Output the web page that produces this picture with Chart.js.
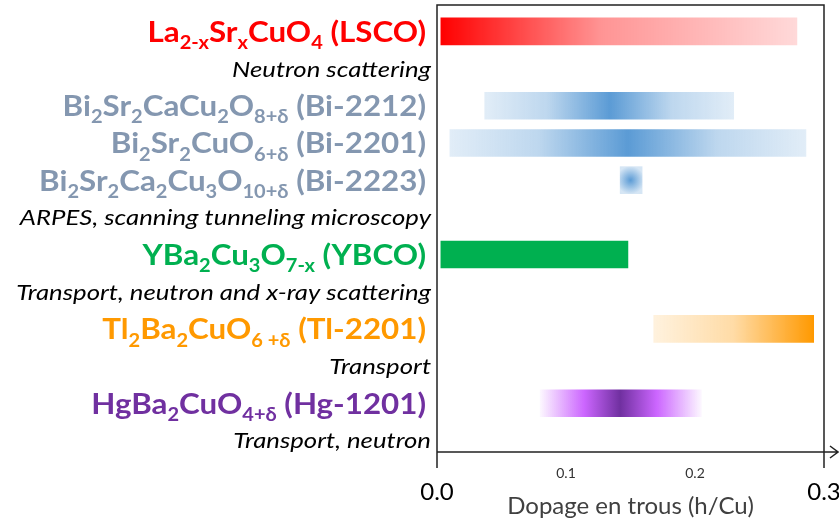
<!DOCTYPE html>
<html>
<head>
<meta charset="utf-8">
<script src="https://cdn.jsdelivr.net/npm/chart.js@4.4.1/dist/chart.umd.min.js"></script>
<style>
  body { margin: 0; background: #fff; }
  #wrap { width: 839px; height: 523px; }
</style>
</head>
<body>
<div id="wrap"><canvas id="dopingChart"></canvas></div>
<script>
// rows of the figure: compound label rows and method label rows
const compoundLabels = [
  'La_{2-x}Sr_{x}CuO_{4} (LSCO)',
  'Bi_{2}Sr_{2}CaCu_{2}O_{8+δ} (Bi-2212)',
  'Bi_{2}Sr_{2}CuO_{6+δ} (Bi-2201)',
  'Bi_{2}Sr_{2}Ca_{2}Cu_{3}O_{10+δ} (Bi-2223)',
  'YBa_{2}Cu_{3}O_{7-x} (YBCO)',
  'Tl_{2}Ba_{2}CuO_{6 +δ} (Tl-2201)',
  'HgBa_{2}CuO_{4+δ} (Hg-1201)'
];
const compoundRows = [0, 2, 3, 4, 6, 8, 10];
const methodLabels = [
  'Neutron scattering',
  'ARPES, scanning tunneling microscopy',
  'Transport, neutron and x-ray scattering',
  'Transport',
  'Transport, neutron'
];
const methodRows = [1, 5, 7, 9, 11];

// doping ranges (h/Cu)
const dopingMin = [0.003, 0.037, 0.010, 0.142, 0.003, 0.168, 0.080];
const dopingMax = [0.279, 0.230, 0.286, 0.159, 0.148, 0.292, 0.205];
const dopingPeak = [null, 0.134, 0.148, 0.150, null, null, 0.142];

const xTicks = [0.0, 0.1, 0.2, 0.3];

// styles
const labelColors = ['#FF0000', '#8497B0', '#8497B0', '#8497B0', '#00B050', '#FF9900', '#7030A0'];
const fillKinds = ['fadeRight', 'peak', 'peak', 'spot', 'solid', 'fadeLeft', 'purple'];
const FONT = "Lato, 'Open Sans', sans-serif";

function makeFill(c) {
  const i = c.dataIndex;
  const chart = c.chart;
  if (!chart.chartArea || i === undefined) return labelColors[i] || '#999';
  const ctx = chart.ctx;
  const xs = chart.scales.x, ys = chart.scales.y;
  const x0 = xs.getPixelForValue(dopingMin[i]);
  const x1 = xs.getPixelForValue(dopingMax[i]);
  const kind = fillKinds[i];
  if (kind === 'solid') return '#00B050';
  if (kind === 'fadeRight') {
    const g = ctx.createLinearGradient(x0, 0, x1, 0);
    g.addColorStop(0, 'rgba(255,0,0,1)');
    g.addColorStop(0.45, 'rgba(255,0,0,0.42)');
    g.addColorStop(1, 'rgba(255,0,0,0.15)');
    return g;
  }
  if (kind === 'fadeLeft') {
    const g = ctx.createLinearGradient(x0, 0, x1, 0);
    g.addColorStop(0, 'rgba(255,153,0,0.13)');
    g.addColorStop(0.5, 'rgba(255,153,0,0.35)');
    g.addColorStop(1, 'rgba(255,153,0,1)');
    return g;
  }
  const p = (xs.getPixelForValue(dopingPeak[i]) - x0) / (x1 - x0);
  if (kind === 'spot') {
    const cx = xs.getPixelForValue(dopingPeak[i]);
    const cy = ys.getPixelForValue(compoundRows[i]);
    const g = ctx.createRadialGradient(cx, cy, 0, cx, cy, 14);
    g.addColorStop(0, 'rgba(91,155,213,1)');
    g.addColorStop(1, 'rgba(91,155,213,0.25)');
    return g;
  }
  if (kind === 'peak') {
    const g = ctx.createLinearGradient(x0, 0, x1, 0);
    g.addColorStop(0, 'rgba(91,155,213,0.18)');
    g.addColorStop(p * 0.5, 'rgba(91,155,213,0.4)');
    g.addColorStop(p, 'rgba(91,155,213,1)');
    g.addColorStop(p + (1 - p) * 0.5, 'rgba(91,155,213,0.4)');
    g.addColorStop(1, 'rgba(91,155,213,0.18)');
    return g;
  }
  // purple
  const g = ctx.createLinearGradient(x0, 0, x1, 0);
  g.addColorStop(0, 'rgba(204,102,255,0.05)');
  g.addColorStop(p * 0.55, 'rgba(204,102,255,1)');
  g.addColorStop(p, 'rgba(112,48,160,1)');
  g.addColorStop(p + (1 - p) * 0.45, 'rgba(204,102,255,1)');
  g.addColorStop(1, 'rgba(204,102,255,0.05)');
  return g;
}

function parseRich(s) {
  const parts = [];
  const re = /_\{([^}]*)\}/g;
  let last = 0, m;
  while ((m = re.exec(s))) {
    if (m.index > last) parts.push({ t: s.slice(last, m.index), sub: false });
    parts.push({ t: m[1], sub: true });
    last = re.lastIndex;
  }
  if (last < s.length) parts.push({ t: s.slice(last), sub: false });
  return parts;
}

function drawRich(ctx, text, xRight, yMid, size, color, sx) {
  const parts = parseRich(text);
  const subSize = size * 0.64;
  ctx.save();
  ctx.translate(xRight, yMid + size * 0.36);
  ctx.scale(sx, 1);
  ctx.fillStyle = color;
  ctx.textBaseline = 'alphabetic';
  ctx.textAlign = 'left';
  let w = 0;
  parts.forEach(p => {
    ctx.font = 'bold ' + (p.sub ? subSize : size) + 'px ' + FONT;
    p.w = ctx.measureText(p.t).width;
    w += p.w;
  });
  let x = -w;
  parts.forEach(p => {
    ctx.font = 'bold ' + (p.sub ? subSize : size) + 'px ' + FONT;
    ctx.fillText(p.t, x, p.sub ? size * 0.25 : 0);
    x += p.w;
  });
  ctx.restore();
}

const figurePlugin = {
  id: 'figure',
  afterDraw(chart) {
    const { ctx, chartArea } = chart;
    const { left, right, top, bottom } = chartArea;
    const xs = chart.scales.x, ys = chart.scales.y;

    // frame + axis arrow
    ctx.save();
    ctx.strokeStyle = '#222';
    ctx.lineWidth = 1.5;
    ctx.beginPath();
    ctx.moveTo(left, bottom + 16);
    ctx.lineTo(left, top);
    ctx.lineTo(right, top);
    ctx.lineTo(right, bottom + 16);
    ctx.moveTo(left, bottom);
    ctx.lineTo(chart.width - 1, bottom);
    ctx.moveTo(chart.width - 9, bottom - 6);
    ctx.lineTo(chart.width - 1, bottom);
    ctx.lineTo(chart.width - 9, bottom + 6);
    ctx.stroke();

    // big end labels
    ctx.fillStyle = '#000';
    ctx.font = '24px ' + FONT;
    ctx.textAlign = 'center';
    ctx.textBaseline = 'middle';
    [xTicks[0], xTicks[xTicks.length - 1]].forEach(v => {
      ctx.fillText(v.toFixed(1), xs.getPixelForValue(v), bottom + 40);
    });
    ctx.restore();

    // compound labels
    compoundLabels.forEach((lab, i) => {
      drawRich(ctx, lab, left - 11, ys.getPixelForValue(compoundRows[i]), 29, labelColors[i], 1.08);
    });

    // method labels
    methodLabels.forEach((lab, i) => {
      ctx.save();
      ctx.translate(left - 6, ys.getPixelForValue(methodRows[i]) + 8);
      ctx.scale(1.17, 1);
      ctx.fillStyle = '#000';
      ctx.font = 'italic 22px ' + FONT;
      ctx.textAlign = 'right';
      ctx.textBaseline = 'alphabetic';
      ctx.fillText(lab, 0, 0);
      ctx.restore();
    });
  }
};

new Chart(document.getElementById('dopingChart'), {
  type: 'bar',
  data: {
    datasets: [{
      data: compoundLabels.map((c, i) => ({ x: [dopingMin[i], dopingMax[i]], y: compoundRows[i] })),
      backgroundColor: makeFill,
      borderWidth: 0,
      barThickness: 27
    }]
  },
  options: {
    indexAxis: 'y',
    responsive: true,
    maintainAspectRatio: false,
    animation: false,
    layout: { padding: { left: 437, right: 15, top: 5, bottom: 0 } },
    plugins: {
      legend: { display: false },
      tooltip: { enabled: false }
    },
    scales: {
      x: {
        type: 'linear',
        min: 0,
        max: 0.3,
        afterBuildTicks: s => { s.ticks = xTicks.map(v => ({ value: v })); },
        afterFit: s => { s.height = 71; },
        ticks: {
          padding: 13,
          color: '#333',
          font: { family: FONT, size: 14 },
          callback: v => (v > 0.05 && v < 0.25) ? v.toFixed(1) : ''
        },
        grid: { display: false, drawTicks: false },
        border: { display: false },
        title: {
          display: true,
          text: 'Dopage en trous (h/Cu)',
          color: '#404040',
          font: { family: FONT, size: 24 },
          padding: { top: 12, bottom: 2 }
        }
      },
      y: {
        type: 'linear',
        reverse: true,
        offset: false,
        bounds: 'data',
        min: -0.71,
        max: 11.31,
        display: false
      }
    }
  },
  plugins: [figurePlugin]
});
</script>
</body>
</html>
